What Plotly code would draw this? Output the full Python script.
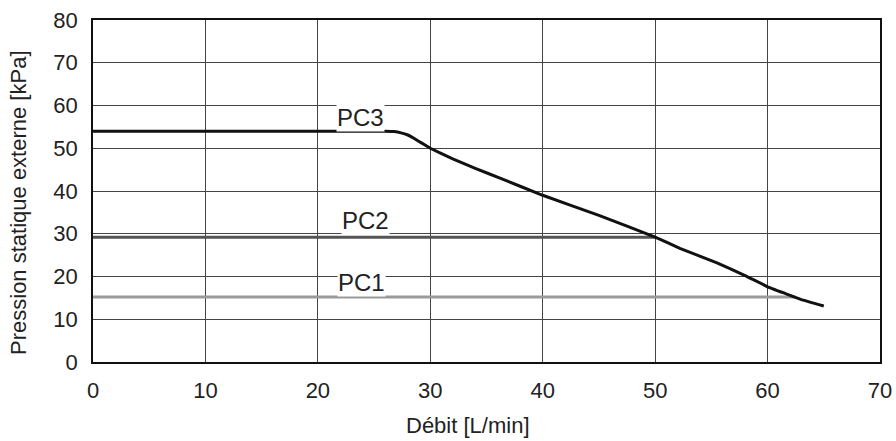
import plotly.graph_objects as go

# PC3 courbe (débit, pression)
pc3_debit = [0, 10, 20, 25, 26.0, 26.8, 27.4, 28.0, 28.5, 29.0, 29.5, 30, 32, 34, 36.2, 40, 45, 50, 52.2, 55.5, 58, 60, 61.6, 63, 65]
pc3_pression = [54, 54, 54, 54, 54.0, 53.9, 53.6, 53.1, 52.4, 51.6, 50.8, 50.0, 47.5, 45.3, 43, 39, 34.3, 29.2, 26.6, 23.2, 20.2, 17.6, 16.0, 14.6, 13.1]

# PC2 et PC1 : lignes horizontales
pc2_debit = [0, 50]
pc2_pression = [29.2, 29.2]
pc1_debit = [0, 62.5]
pc1_pression = [15.2, 15.2]

labels = ["PC3", "PC2", "PC1"]
label_x = [23.8, 24.2, 23.9]
label_y = [57.3, 33.2, 18.5]

fig = go.Figure()
fig.add_trace(go.Scatter(x=pc1_debit, y=pc1_pression, mode="lines",
                         line=dict(color="#9a9a9a", width=3), showlegend=False))
fig.add_trace(go.Scatter(x=pc2_debit, y=pc2_pression, mode="lines",
                         line=dict(color="#555555", width=3), showlegend=False))
fig.add_trace(go.Scatter(x=pc3_debit, y=pc3_pression, mode="lines",
                         line=dict(color="#111111", width=3, shape="spline", smoothing=0.2),
                         showlegend=False))

for txt, lx, ly in zip(labels, label_x, label_y):
    fig.add_annotation(x=lx, y=ly, text=txt, showarrow=False,
                       font=dict(size=24, color="#222"), bgcolor="white",
                       borderpad=0)

# titres des axes (un peu décentrés comme dans l'original)
fig.add_annotation(xref="paper", yref="paper", x=0.4765, y=-0.186,
                   xanchor="center", yanchor="middle",
                   text="Débit [L/min]", showarrow=False,
                   font=dict(size=22, color="#222"))
fig.add_annotation(xref="paper", yref="paper", x=-0.094, y=0.465,
                   xanchor="center", yanchor="middle",
                   text="Pression statique externe [kPa]", showarrow=False,
                   textangle=-90, font=dict(size=22, color="#222"))

fig.update_layout(
    width=896, height=441,
    paper_bgcolor="white", plot_bgcolor="white",
    margin=dict(l=93, r=16, t=20, b=79),
    font=dict(family="Liberation Sans, Arial, sans-serif", color="#222"),
    xaxis=dict(range=[0, 70], dtick=10, showgrid=True, gridcolor="#444", gridwidth=1,
               showline=True, linecolor="#111", linewidth=1.5, mirror=True,
               ticks="", tickfont=dict(size=22), zeroline=False, automargin=False,
               ticklabelstandoff=8),
    yaxis=dict(range=[0, 80], dtick=10, showgrid=True, gridcolor="#444", gridwidth=1,
               showline=True, linecolor="#111", linewidth=1.5, mirror=True,
               ticks="", tickfont=dict(size=22), zeroline=False, automargin=False,
               ticklabelstandoff=9),
)

# enlever la marge par défaut de la page
fig.write_html("out.html", config={"displayModeBar": False},
               post_script="document.body.style.margin='0';")
